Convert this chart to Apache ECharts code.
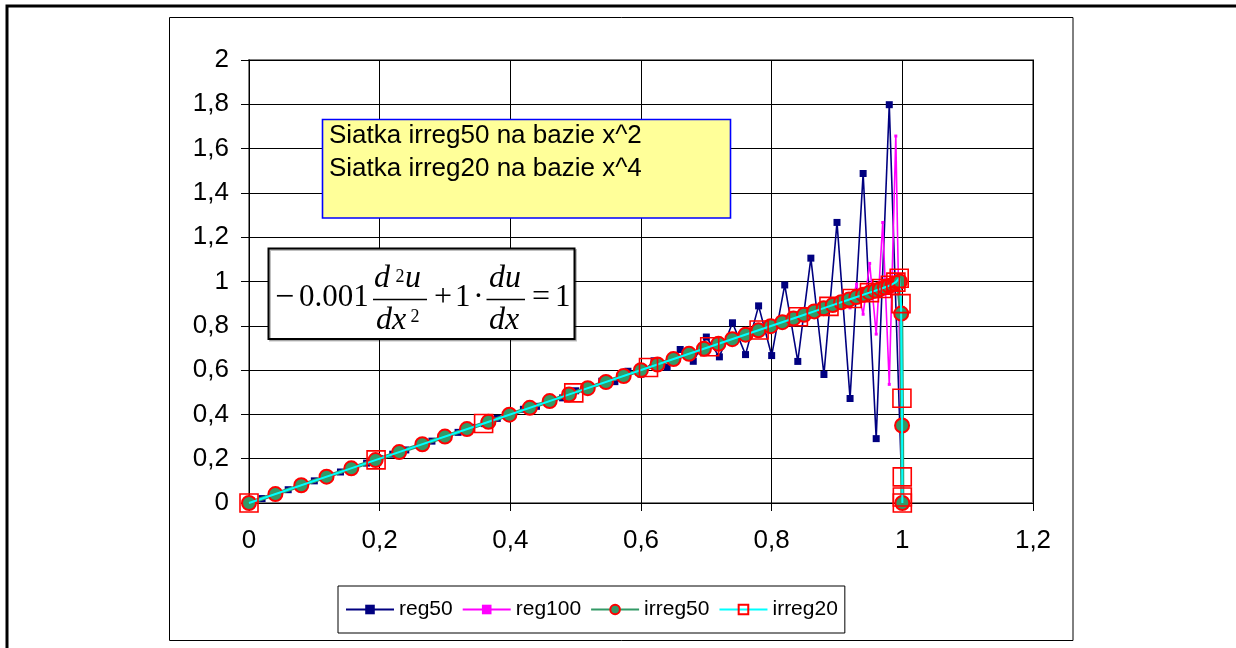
<!DOCTYPE html>
<html>
<head>
<meta charset="utf-8">
<script src="https://cdn.jsdelivr.net/npm/echarts@6/dist/echarts.min.js"></script>
<style>
html,body{margin:0;padding:0;background:#fff;}
#chart{width:1236px;height:648px;}
</style>
</head>
<body>
<div id="chart"></div>
<script>
// ---- data ----
const seriesNames = ['reg50', 'reg100', 'irreg50', 'irreg20'];

const xReg50 = [0,0.02,0.04,0.06,0.08,0.10,0.12,0.14,0.16,0.18,0.20,0.22,0.24,0.26,0.28,0.30,0.32,0.34,0.36,0.38,0.40,0.42,0.44,0.46,0.48,0.50,0.52,0.54,0.56,0.58,0.60,0.62,0.64,0.66,0.68,0.70,0.72,0.74,0.76,0.78,0.80,0.82,0.84,0.86,0.88,0.90,0.92,0.94,0.96,0.98,1.00];
const yReg50 = [0,0.02,0.04,0.06,0.08,0.10,0.12,0.14,0.16,0.18,0.20,0.2204,0.2395,0.2606,0.2793,0.3009,0.3189,0.3413,0.3584,0.382,0.3976,0.423,0.4364,0.4644,0.4746,0.5066,0.5119,0.5499,0.5479,0.5948,0.5819,0.6421,0.613,0.693,0.6397,0.7493,0.6598,0.8136,0.67,0.89,0.6656,0.9843,0.6392,1.1054,0.58,1.2667,0.4719,1.4877,0.2906,1.7982,0];

const xReg100 = [0,0.01,0.02,0.03,0.04,0.05,0.06,0.07,0.08,0.09,0.10,0.11,0.12,0.13,0.14,0.15,0.16,0.17,0.18,0.19,0.20,0.21,0.22,0.23,0.24,0.25,0.26,0.27,0.28,0.29,0.30,0.31,0.32,0.33,0.34,0.35,0.36,0.37,0.38,0.39,0.40,0.41,0.42,0.43,0.44,0.45,0.46,0.47,0.48,0.49,0.50,0.51,0.52,0.53,0.54,0.55,0.56,0.57,0.58,0.59,0.60,0.61,0.62,0.63,0.64,0.65,0.66,0.67,0.68,0.69,0.70,0.71,0.72,0.73,0.74,0.75,0.76,0.77,0.78,0.79,0.80,0.81,0.82,0.83,0.84,0.85,0.86,0.87,0.88,0.89,0.90,0.91,0.92,0.93,0.94,0.95,0.96,0.97,0.98,0.99,1.00];
const yReg100 = [0,0.01,0.02,0.03,0.04,0.05,0.06,0.07,0.08,0.09,0.10,0.11,0.12,0.13,0.14,0.15,0.16,0.17,0.18,0.19,0.20,0.21,0.22,0.23,0.24,0.25,0.26,0.27,0.28,0.29,0.30,0.31,0.32,0.33,0.34,0.35,0.36,0.37,0.38,0.39,0.40,0.41,0.42,0.43,0.44,0.45,0.46,0.47,0.48,0.49,0.50,0.51,0.52,0.53,0.54,0.55,0.56,0.57,0.58,0.59,0.60,0.61,0.62,0.63,0.64,0.65,0.66,0.67,0.68,0.69,0.70,0.71,0.72,0.73,0.74,0.75,0.76,0.77,0.78,0.79,0.80,0.8105,0.8193,0.831,0.8385,0.8523,0.8566,0.8751,0.8723,0.9016,0.8827,0.936,0.881,0.9885,0.8522,1.0817,0.7625,1.2663,0.5356,1.6567,0];

const xIrreg50 = [0,0.0404,0.08,0.1187,0.1566,0.1937,0.2299,0.2653,0.2999,0.3336,0.3665,0.3986,0.4298,0.4602,0.4898,0.5185,0.5464,0.5735,0.5998,0.6252,0.6497,0.6735,0.6964,0.7185,0.7397,0.7601,0.7797,0.7984,0.8163,0.8334,0.8496,0.8651,0.8796,0.8934,0.9063,0.9184,0.9296,0.94,0.9496,0.9584,0.9663,0.9733,0.9796,0.985,0.9896,0.9933,0.9963,0.9983,0.9996,1.0];
const yIrreg50 = [0,0.0404,0.08,0.1187,0.1566,0.1937,0.2299,0.2653,0.2999,0.3336,0.3665,0.3986,0.4298,0.4602,0.4898,0.5185,0.5464,0.5735,0.5998,0.6252,0.6497,0.6735,0.6964,0.7185,0.7397,0.7601,0.7797,0.7984,0.8163,0.8334,0.8496,0.8651,0.8796,0.8934,0.9063,0.9184,0.9296,0.94,0.9496,0.9584,0.9663,0.9733,0.9796,0.985,0.9896,0.995,1.0,0.855,0.35,0];

const xIrreg20 = [0,0.1945,0.3591,0.4971,0.6115,0.7052,0.7808,0.8409,0.8877,0.9233,0.9497,0.9686,0.9816,0.9901,0.9952,0.998,0.9994,0.9999,1.0,1.0];
const yIrreg20 = [0,0.1945,0.3591,0.4971,0.6115,0.7052,0.7808,0.8409,0.8877,0.9233,0.9497,0.9686,0.983,0.997,1.015,0.90,0.473,0.118,0.027,0];

const xTickLabels = ['0','0,2','0,4','0,6','0,8','1','1,2'];
const yTickLabels = ['0','0,2','0,4','0,6','0,8','1','1,2','1,4','1,6','1,8','2'];

const noteLines = ['Siatka irreg50 na bazie x^2', 'Siatka irreg20 na bazie x^4'];

// ---- chart ----
const zip = (xs, ys) => xs.map((x, i) => [x, ys[i]]);
const tickLabel = (labels) => (v) => labels[Math.round(v / 0.2)] ?? '';

const chart = echarts.init(document.getElementById('chart'), null, {renderer: 'canvas'});

const SANS = '"Liberation Sans", Arial, sans-serif';
const SERIF = '"Liberation Serif", "Times New Roman", serif';

function t(text, x, y, size, opts) {
  opts = opts || {};
  return {
    type: 'text', x: x, y: y, z: 20,
    style: {
      text: text, fontSize: size, fontFamily: opts.family || SERIF,
      fontStyle: opts.italic ? 'italic' : 'normal',
      fill: '#000',
      align: opts.align || 'left', textAlign: opts.align || 'left',
      verticalAlign: 'middle', textVerticalAlign: 'middle'
    }
  };
}

const eqMid = 298, numMid = 278.5, denMid = 321;
const graphics = [
  // outer frame
  {type: 'rect', z: 0, shape: {x: 7, y: 6, width: 1250, height: 660}, style: {fill: 'none', stroke: '#000', lineWidth: 3}},
  // chart area frame
  {type: 'rect', z: 0, shape: {x: 169.5, y: 17.5, width: 903.5, height: 623}, style: {fill: 'none', stroke: '#000', lineWidth: 1}},
  // note box
  {type: 'rect', z: 15, shape: {x: 322.5, y: 119.5, width: 408, height: 98.5}, style: {fill: '#FFFF99', stroke: '#0000FF', lineWidth: 1.6}},
  t(noteLines[0], 329, 136, 26, {family: SANS}),
  t(noteLines[1], 329, 169, 26, {family: SANS}),
  // equation box
  {type: 'rect', z: 15, shape: {x: 268.5, y: 248.5, width: 306, height: 90.5}, style: {fill: '#fff', stroke: '#000', lineWidth: 2,
    shadowColor: 'rgba(0,0,0,0.25)', shadowOffsetX: 1.5, shadowOffsetY: 1.5, shadowBlur: 0}},
  t('\u2212', 275, eqMid, 34),
  t('0.001', 299, eqMid, 31),
  t('d', 374, numMid, 32, {italic: true}),
  t('2', 395.5, 277, 18),
  t('u', 405, numMid, 32, {italic: true}),
  {type: 'line', z: 20, shape: {x1: 373, y1: 299.5, x2: 427, y2: 299.5}, style: {stroke: '#000', lineWidth: 1.4}},
  t('dx', 376, denMid, 32, {italic: true}),
  t('2', 410.5, 317, 18),
  t('+', 434, eqMid, 32),
  t('1', 455, eqMid, 31),
  t('\u00B7', 478.5, eqMid, 31, {align: 'center'}),
  t('du', 489, numMid, 32, {italic: true}),
  {type: 'line', z: 20, shape: {x1: 486.5, y1: 299.5, x2: 525, y2: 299.5}, style: {stroke: '#000', lineWidth: 1.4}},
  t('dx', 489, denMid, 32, {italic: true}),
  t('=', 532, eqMid, 32),
  t('1', 555, eqMid, 31)
];

const option = {
  animation: false,
  backgroundColor: '#fff',
  grid: {left: 249, right: 203, top: 60, bottom: 145, show: true, borderColor: '#808080', borderWidth: 2, backgroundColor: 'transparent'},
  xAxis: {
    type: 'value', min: 0, max: 1.2, interval: 0.2,
    axisLine: {show: true, onZero: false, lineStyle: {color: '#000', width: 1}},
    axisTick: {show: true, length: 8, lineStyle: {color: '#000'}},
    axisLabel: {formatter: tickLabel(xTickLabels), margin: 25, fontSize: 26, fontFamily: SANS, color: '#000'},
    splitLine: {show: true, lineStyle: {color: '#000', width: 1}}
  },
  yAxis: {
    type: 'value', min: 0, max: 2, interval: 0.2,
    axisLine: {show: true, onZero: false, lineStyle: {color: '#000', width: 1}},
    axisTick: {show: true, length: 8, lineStyle: {color: '#000'}},
    axisLabel: {formatter: tickLabel(yTickLabels), margin: 20, fontSize: 26, fontFamily: SANS, color: '#000'},
    splitLine: {show: true, lineStyle: {color: '#000', width: 1}}
  },
  legend: {
    data: seriesNames, left: 338, top: 586, orient: 'horizontal',
    padding: [13, 7], itemGap: 9, itemWidth: 48, itemHeight: 12,
    borderColor: '#000', borderWidth: 1, backgroundColor: '#fff',
    textStyle: {fontSize: 21, fontFamily: SANS, color: '#000'}
  },
  series: [
    {name: seriesNames[0], type: 'line', data: zip(xReg50, yReg50), symbol: 'rect', symbolSize: 7, showAllSymbol: true,
     itemStyle: {color: '#000080'}, lineStyle: {color: '#000080', width: 1.6}, z: 2},
    {name: seriesNames[1], type: 'line', data: zip(xReg100, yReg100), symbol: 'rect', symbolSize: 3, showAllSymbol: true,
     itemStyle: {color: '#FF00FF'}, lineStyle: {color: '#FF00FF', width: 1.6}, z: 3},
    {name: seriesNames[2], type: 'line', data: zip(xIrreg50, yIrreg50), symbol: 'circle', symbolSize: 14, showAllSymbol: true,
     itemStyle: {color: '#339966', borderColor: '#FF0000', borderWidth: 2}, lineStyle: {color: '#339966', width: 4}, z: 4},
    {name: seriesNames[3], type: 'line', data: zip(xIrreg20, yIrreg20), symbol: 'rect', symbolSize: 18, showAllSymbol: true,
     itemStyle: {color: 'rgba(0,0,0,0)', borderColor: '#FF0000', borderWidth: 1.6}, lineStyle: {color: '#00FFFF', width: 2}, z: 5}
  ],
  graphic: {elements: graphics}
};
chart.setOption(option);
</script>
</body>
</html>
